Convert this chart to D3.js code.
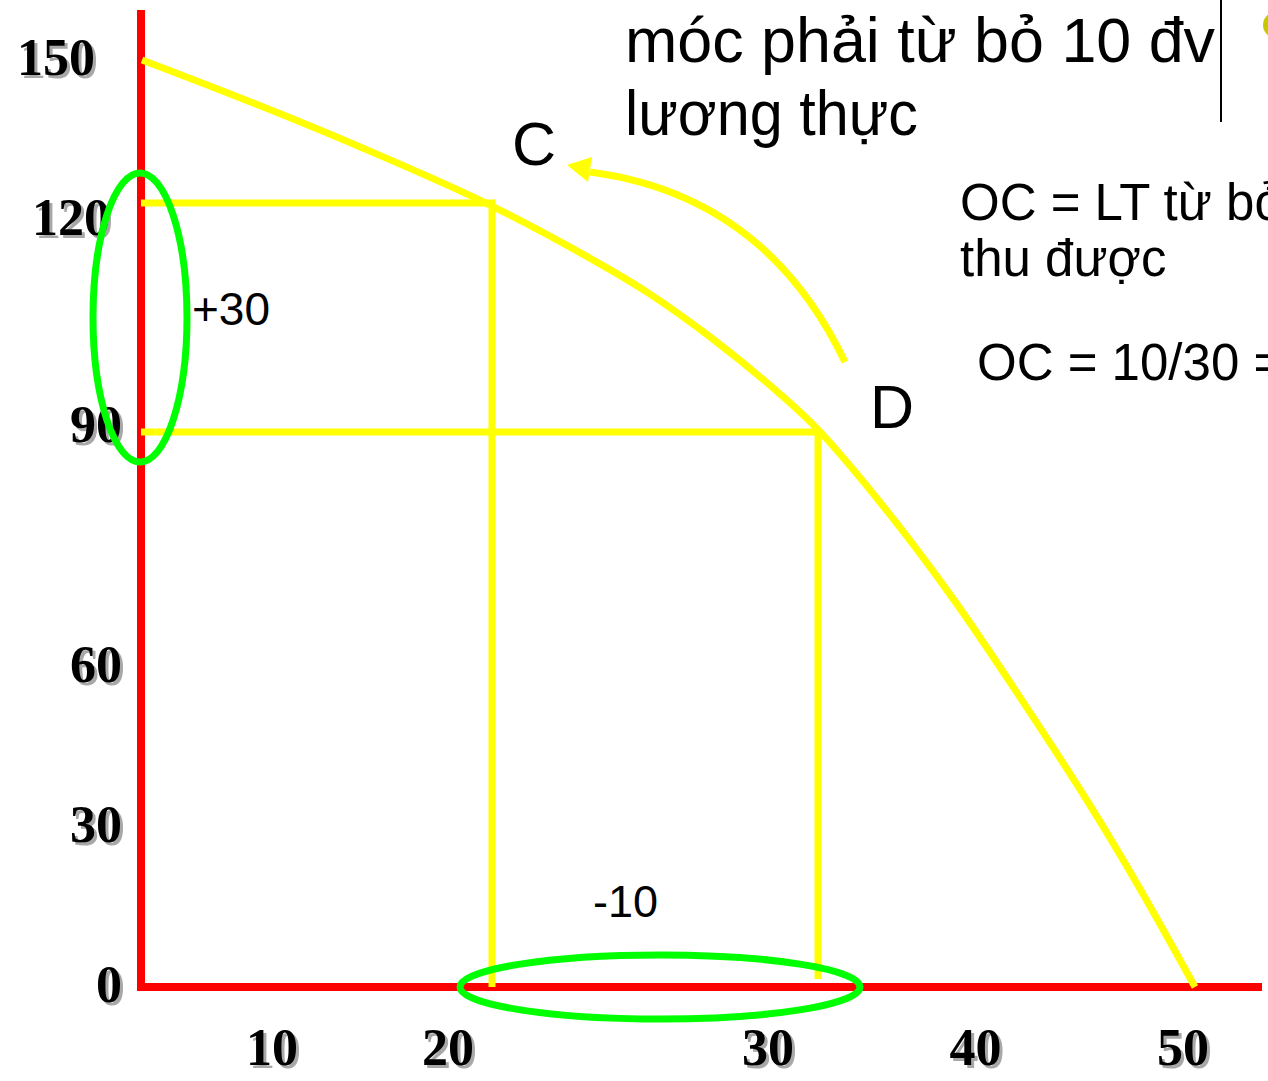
<!DOCTYPE html>
<html>
<head>
<meta charset="utf-8">
<script src="https://cdn.jsdelivr.net/npm/d3@7"></script>
<style>
  html, body { margin: 0; padding: 0; background: #fff; overflow: hidden; }
  svg { display: block; }
</style>
</head>
<body>
<div id="chart"></div>
<script>
// Dữ liệu
const xTicks = [10, 20, 30, 40, 50];
const yTicks = [0, 30, 60, 90, 120, 150];
const frontierX = [0, 6.2, 12.5, 19.3, 22.7, 24.8, 26.8, 28.8, 30, 33.7, 37.2, 40.7, 44.3, 47.1, 50];
const frontierY = [150, 141.2, 131.7, 120.6, 113.5, 108.2, 102.1, 95.1, 90.3, 79.8, 68.6, 54.4, 34.8, 18.3, 0];
const pointNames = ["C", "D"];
const pointX = [20, 30];
const pointY = [120, 90];
const headingLines = ["móc phải từ bỏ 10 đv", "lương thực"];
const noteLines = ["OC = LT từ bỏ / SL máy móc", "thu được"];
const noteFormula = "OC = 10/30 = 1/3";

const width = 1268;
const height = 1081;
const yellow = "#ffff00";
const green = "#00ff00";
const red = "#ff0000";

const svg = d3.select("#chart").append("svg")
    .attr("width", width)
    .attr("height", height);

// thang đo (slide vẽ tay, không đều nên dùng thang từng đoạn)
const x = d3.scaleLinear().domain([0, 20, 30, 50]).range([142, 492, 818, 1195]);
const y = d3.scaleLinear().domain([0, 30, 60, 90, 120, 150]).range([987, 827, 667, 432, 203, 60]);

// trục đỏ
svg.append("path")
    .attr("d", `M${x(0) - 1},10 V${y(0)} H1262`)
    .attr("fill", "none")
    .attr("stroke", red)
    .attr("stroke-width", 8)
    .attr("stroke-linejoin", "miter");

// nhãn trục với bóng xám
function shadowText(g, tx, ty, txt, anchor) {
  const t = g.append("g")
      .attr("font-family", "'Liberation Serif', 'Times New Roman', serif")
      .attr("font-weight", "bold")
      .attr("font-size", 52)
      .attr("text-anchor", anchor);
  t.append("text").attr("x", tx + 3).attr("y", ty + 3).attr("fill", "#a8a8a8").text(txt);
  t.append("text").attr("x", tx).attr("y", ty).attr("fill", "#000").text(txt);
}

const yNudge = {150: [-27, 0], 120: [-12, 17], 90: [0, -5]};
yTicks.forEach(v => {
  const n = yNudge[v] || [0, 0];
  shadowText(svg, 122 + n[0], y(v) + 15 + n[1], v, "end");
});

const xNudge = {10: -45, 20: -44, 30: -50, 40: -31, 50: -12};
xTicks.forEach(v => {
  shadowText(svg, x(v) + xNudge[v], 1065, v, "middle");
});

// đường kẻ vàng từ C, D xuống trục
pointX.forEach((px, i) => {
  svg.append("path")
      .attr("d", `M${x(0) - 1},${y(pointY[i])} H${x(px)} V${y(0) - (i ? 8 : 0)}`)
      .attr("fill", "none")
      .attr("stroke", yellow)
      .attr("stroke-width", 7);
});

// đường giới hạn khả năng sản xuất
const line = d3.line()
    .x((d, i) => x(frontierX[i]))
    .y((d, i) => y(frontierY[i]))
    .curve(d3.curveCatmullRom.alpha(0.5));

svg.append("path")
    .datum(frontierX)
    .attr("d", line)
    .attr("fill", "none")
    .attr("stroke", yellow)
    .attr("stroke-width", 7);

// mũi tên từ D về C
const c = [x(pointX[0]), y(pointY[0])];
const dpt = [x(pointX[1]), y(pointY[1])];
const start = [dpt[0] + 27, dpt[1] - 70];
const end = [c[0] + 98, c[1] - 31];
const ctrl = [765, 195];
svg.append("path")
    .attr("d", `M${start} Q${ctrl} ${end}`)
    .attr("fill", "none")
    .attr("stroke", yellow)
    .attr("stroke-width", 7);
const tip = [c[0] + 75, c[1] - 38];
svg.append("polygon")
    .attr("points", [tip, [tip[0] + 25, tip[1] - 8], [tip[0] + 21, tip[1] + 17]].map(p => p.join(",")).join(" "))
    .attr("fill", yellow);

// vòng elip xanh
svg.append("ellipse")
    .attr("cx", x(0) - 2)
    .attr("cy", (y(pointY[0]) + y(pointY[1])) / 2)
    .attr("rx", 47)
    .attr("ry", (y(pointY[1]) - y(pointY[0])) / 2 + 30)
    .attr("fill", "none")
    .attr("stroke", green)
    .attr("stroke-width", 7);

svg.append("ellipse")
    .attr("cx", (x(pointX[0]) + x(pointX[1])) / 2 + 5)
    .attr("cy", y(0))
    .attr("rx", 200)
    .attr("ry", 32)
    .attr("fill", "none")
    .attr("stroke", green)
    .attr("stroke-width", 7);

// chữ
const sans = "'Liberation Sans', Arial, Helvetica, sans-serif";
function label(tx, ty, txt, size, len) {
  const t = svg.append("text")
      .attr("x", tx).attr("y", ty)
      .attr("font-family", sans)
      .attr("font-size", size)
      .attr("fill", "#000")
      .text(txt);
  if (len) t.attr("textLength", len).attr("lengthAdjust", "spacingAndGlyphs");
}

label(192, 325, "+" + (pointY[0] - pointY[1]), 46);
label(593, 917, "-" + (pointX[1] - pointX[0]), 45);
label(c[0] + 20, c[1] - 38, pointNames[0], 61);
label(dpt[0] + 52, dpt[1] - 4, pointNames[1], 61);

label(625, 62, headingLines[0], 63, 590);
label(625, 135, headingLines[1], 63, 293);
noteLines.forEach((t, i) => label(960, 220 + i * 56, t, 51));
label(977, 380, noteFormula, 51);

// vạch đen và dấu đầu dòng bên phải
svg.append("line")
    .attr("x1", 1221).attr("x2", 1221)
    .attr("y1", 0).attr("y2", 122)
    .attr("stroke", "#000")
    .attr("stroke-width", 2);
svg.append("circle").attr("cx", 1276).attr("cy", 25).attr("r", 13).attr("fill", "#c8c800");
svg.append("circle").attr("cx", 1276).attr("cy", -7).attr("r", 10).attr("fill", "#5f9ea0");
</script>
</body>
</html>
